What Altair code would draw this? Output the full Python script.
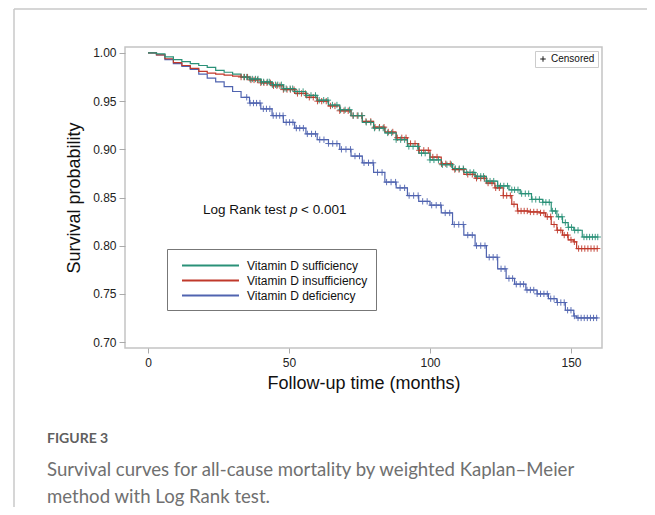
import altair as alt
import pandas as pd
import numpy as np

groups = ["Vitamin D sufficiency", "Vitamin D insufficiency", "Vitamin D deficiency"]
colors = ["#2a9178", "#c0392b", "#5064b0"]

suff_t = [0, 3, 6, 9, 12, 15, 18, 21, 24, 27, 30, 33, 36, 40, 44, 48, 52, 56, 60, 64, 68, 72, 76, 80,
          84, 88, 92, 96, 100, 104, 108, 112, 116, 120, 124, 128, 132, 136, 140, 143, 145, 147, 149,
          151, 154, 159.5]
suff_s = [1.000, 0.999, 0.996, 0.993, 0.991, 0.989, 0.987, 0.985, 0.982, 0.980, 0.978, 0.975, 0.973,
          0.970, 0.967, 0.963, 0.960, 0.956, 0.951, 0.946, 0.941, 0.935, 0.928, 0.922, 0.917, 0.910,
          0.903, 0.896, 0.889, 0.884, 0.880, 0.876, 0.872, 0.867, 0.862, 0.858, 0.854, 0.848, 0.845,
          0.836, 0.830, 0.824, 0.819, 0.816, 0.809, 0.809]

insuff_t = [0, 3, 6, 9, 12, 15, 18, 21, 24, 27, 30, 33, 36, 40, 44, 48, 52, 56, 60, 64, 68, 72, 76, 80,
            84, 88, 92, 96, 100, 104, 108, 112, 116, 120, 123, 126, 129, 131, 135, 139, 141, 143, 145,
            147, 149, 151, 152, 159.5]
insuff_s = [1.000, 0.998, 0.994, 0.990, 0.987, 0.984, 0.981, 0.979, 0.978, 0.977, 0.976, 0.975, 0.972,
            0.969, 0.966, 0.962, 0.958, 0.954, 0.950, 0.945, 0.940, 0.935, 0.929, 0.923, 0.918, 0.912,
            0.906, 0.899, 0.892, 0.885, 0.879, 0.874, 0.870, 0.865, 0.860, 0.852, 0.843, 0.836, 0.835,
            0.834, 0.830, 0.822, 0.816, 0.811, 0.806, 0.804, 0.797, 0.797]

def_t = [0, 3, 6, 9, 12, 15, 18, 21, 24, 27, 30, 33, 36, 40, 44, 48, 52, 56, 60, 64, 68, 72, 76, 80,
         84, 88, 92, 96, 100, 104, 108, 112, 116, 120, 124, 127, 130, 134, 138, 142, 145, 148, 151,
         152, 159.5]
def_s = [1.000, 0.998, 0.993, 0.989, 0.986, 0.983, 0.978, 0.974, 0.970, 0.965, 0.960, 0.954, 0.948,
         0.942, 0.935, 0.928, 0.922, 0.916, 0.910, 0.906, 0.900, 0.893, 0.886, 0.876, 0.866, 0.860,
         0.852, 0.846, 0.842, 0.834, 0.822, 0.811, 0.800, 0.788, 0.776, 0.766, 0.760, 0.754, 0.750,
         0.745, 0.741, 0.733, 0.727, 0.725, 0.725]

suff_cens = [34, 35, 36.2, 37, 38.1, 39, 40.2, 41, 42.3, 43, 44.1, 45.2, 46, 47.3, 48.2, 49, 50.4, 51.3,
             52.5, 53.6, 55, 56.3, 57.8, 59.4, 60.7, 62.3, 63.8, 65.4, 67, 68.3, 69.9, 71.5, 72.8,
             74.5, 75.9, 77.4, 79, 80.3, 82, 83.4, 85, 86.4, 88, 89.6, 91, 92.5, 94, 95.6, 97, 98.3,
             100, 101.4, 103, 104.4, 106, 107.6, 109, 110.4, 111.8, 113, 114.2, 115.5, 116.8, 118,
             119, 120.2, 121.3, 122.6, 124, 125, 126.2, 127.5, 129, 130, 131.2, 132.5, 133.8, 135,
             136.2, 137.5, 138.8, 140, 141.1, 142.3, 143.4, 144.5, 145.6, 146.8, 148, 149.1, 150.2,
             151.3, 152.5, 154.6, 155.6, 156.6, 157.6, 158.6, 159.5]
insuff_cens = [33, 34.2, 35.3, 36.5, 37.6, 38.8, 40, 41.1, 42.2, 43.4, 44.5, 45.7, 46.8, 48, 49.3, 50.5,
               51.8, 53, 54.4, 55.8, 57.2, 58.6, 60.1, 61.6, 63.2, 64.7, 66.3, 68, 69.5, 71, 72.7,
               74.2, 75.8, 77.3, 79, 80.5, 82.1, 83.7, 85.2, 86.8, 88.4, 90, 91.5, 93.1, 94.7, 96.2,
               97.8, 99.4, 101, 102.5, 104.1, 105.6, 107.2, 108.8, 110.3, 111.9, 113.4, 115, 116.5,
               118, 119.3, 120.6, 122, 123.3, 124.6, 126, 127.2, 128.5, 129.8, 131.2, 132.3, 133.4,
               134.5, 135.6, 136.8, 138, 139.2, 140.4, 141.6, 142.8, 144, 145.2, 146.4, 147.6, 148.8,
               150, 151.2, 152.7, 153.8, 154.9, 156, 157.1, 158.2, 159.3]
def_cens = [35, 36.2, 37.4, 38.5, 39.7, 40.9, 42, 43.2, 44.4, 45.5, 46.7, 47.9, 49, 50.2, 51.4, 52.6,
            53.8, 55.1, 56.5, 58, 59.4, 60.9, 62.4, 64, 65.5, 67, 68.6, 70.2, 71.8, 73.4, 75, 76.6,
            78.2, 79.8, 81.4, 83, 84.6, 86.2, 87.8, 89.4, 91, 92.6, 94.2, 95.8, 97.4, 99, 100.6,
            102.2, 103.8, 105.4, 107, 108.6, 110.2, 111.8, 113.4, 115, 116.5, 118, 119.5, 121, 122.4,
            123.8, 125.2, 126.6, 128, 129.3, 130.6, 132, 133.2, 134.4, 135.6, 136.8, 138, 139.2,
            140.4, 141.6, 142.8, 144, 145.2, 146.4, 147.6, 148.8, 150, 151.2, 152.5, 153.6, 154.7,
            155.8, 156.9, 158, 159.1]

caption_head = "FIGURE 3"
caption_lines = ["Survival curves for all-cause mortality by weighted Kaplan\u2013Meier",
                 "method with Log Rank test."]

# draw order: deficiency, insufficiency, sufficiency (sufficiency on top)
series = [(groups[2], def_t, def_s, def_cens),
          (groups[1], insuff_t, insuff_s, insuff_cens),
          (groups[0], suff_t, suff_s, suff_cens)]

line_rows, cens_rows = [], []
for i, (g, ts, ss, cs) in enumerate(series):
    for t, s in zip(ts, ss):
        line_rows.append({"group": g, "t": t, "s": s, "o": i})
    ta = np.array(ts)
    for c in cs:
        k = np.searchsorted(ta, c, side="right") - 1
        cens_rows.append({"group": g, "t": c, "s": ss[k], "kind": "Censored"})
lines_df = pd.DataFrame(line_rows)
cens_df = pd.DataFrame(cens_rows)

FONT = "Liberation Sans"
CAP_FONT = "Lato"
cross = "M-1,0H1M0,-1V1"

xscale = alt.Scale(domain=[-8.16, 161.0], nice=False, zero=False)
yscale = alt.Scale(domain=[0.6938, 1.0062], nice=False, zero=False)
cscale = alt.Scale(domain=groups, range=colors)

xaxis = alt.Axis(values=[0, 50, 100, 150], title="Follow-up time (months)", grid=False, domain=False,
                 tickSize=5, tickColor="#aaaaaa", labelPadding=4, labelFontSize=12, labelFont=FONT,
                 labelColor="#222222", titleFont=FONT, titleFontSize=18, titleFontWeight="normal",
                 titleColor="#111111", titlePadding=6)
yaxis = alt.Axis(values=[0.70, 0.75, 0.80, 0.85, 0.90, 0.95, 1.00], format=".2f",
                 title="Survival probability", grid=False, domain=False, tickSize=6,
                 tickColor="#aaaaaa", labelPadding=3, labelFontSize=12, labelFont=FONT,
                 labelColor="#222222", titleFont=FONT, titleFontSize=18, titleFontWeight="normal",
                 titleColor="#111111", titlePadding=9)

lines = alt.Chart(lines_df).mark_line(interpolate="step-after", strokeWidth=1.2).encode(
    x=alt.X("t:Q", scale=xscale, axis=xaxis),
    y=alt.Y("s:Q", scale=yscale, axis=yaxis),
    color=alt.Color("group:N", scale=cscale, sort=groups,
                    legend=alt.Legend(orient="none", legendX=42, legendY=202, title=None,
                                      symbolType="M-4,0H4", symbolSize=203, symbolStrokeWidth=2,
                                      symbolOffset=27, labelOffset=28, padding=8, rowPadding=0,
                                      labelFont=FONT, labelFontSize=12, labelColor="#111111",
                                      strokeColor="#777777", fillColor="white", labelLimit=0)),
    detail="o:N",
)

points = alt.Chart(cens_df).mark_point(filled=False, size=40, strokeWidth=1, opacity=0.9).encode(
    x=alt.X("t:Q", scale=xscale),
    y=alt.Y("s:Q", scale=yscale),
    stroke=alt.Stroke("group:N", scale=cscale, legend=None),
    shape=alt.Shape("kind:N", scale=alt.Scale(domain=["Censored"], range=[cross]),
                    legend=alt.Legend(orient="top-right", offset=4, title=None, padding=3,
                                      labelFont=FONT, labelFontSize=10, labelColor="#111111",
                                      symbolSize=30, symbolStrokeWidth=1, symbolStrokeColor="black",
                                      symbolFillColor="transparent", labelOffset=3,
                                      strokeColor="#cccccc", fillColor="white")),
)

ann_df = pd.DataFrame({"x": [19.5], "y": [0.837]})
ann1 = alt.Chart(ann_df).mark_text(align="left", baseline="middle", font=FONT, fontSize=13.5,
                                   color="#111111", text="Log Rank test").encode(
    x=alt.X("x:Q", scale=xscale), y=alt.Y("y:Q", scale=yscale))
ann2 = alt.Chart(ann_df).mark_text(align="left", baseline="middle", font=FONT, fontSize=13.5,
                                   fontStyle="italic", color="#111111", text="p", dx=87).encode(
    x=alt.X("x:Q", scale=xscale), y=alt.Y("y:Q", scale=yscale))
ann3 = alt.Chart(ann_df).mark_text(align="left", baseline="middle", font=FONT, fontSize=13.5,
                                   color="#111111", text="< 0.001", dx=98).encode(
    x=alt.X("x:Q", scale=xscale), y=alt.Y("y:Q", scale=yscale))

dummy = pd.DataFrame({"a": [0]})
frame_top = alt.Chart(dummy).mark_rule(color="#c8c8c8", strokeWidth=1.5).encode(
    x=alt.value(-111), x2=alt.value(522), y=alt.value(-38))
frame_left = alt.Chart(dummy).mark_rule(color="#c8c8c8", strokeWidth=1.5).encode(
    x=alt.value(-111), y=alt.value(-38), y2=alt.value(460))

cap_head = alt.Chart(dummy).mark_text(align="left", baseline="middle", font=CAP_FONT, fontSize=14,
                                      fontWeight="bold", color="#606060", text=caption_head).encode(
    x=alt.value(-78), y=alt.value(392))
cap_l1 = alt.Chart(dummy).mark_text(align="left", baseline="middle", font=CAP_FONT, fontSize=18.6,
                                    color="#707070", text=caption_lines[0]).encode(
    x=alt.value(-78), y=alt.value(423))
cap_l2 = alt.Chart(dummy).mark_text(align="left", baseline="middle", font=CAP_FONT, fontSize=18.6,
                                    color="#707070", text=caption_lines[1]).encode(
    x=alt.value(-78), y=alt.value(450))

chart = alt.layer(frame_top, frame_left, lines, points, ann1, ann2, ann3,
                  cap_head, cap_l1, cap_l2).resolve_legend(
    color="independent", stroke="independent", shape="independent"
).properties(
    width=477, height=301,
    autosize=alt.AutoSizeParams(type="none"),
    padding={"left": 117, "top": 39, "right": 45, "bottom": 159},
).configure_view(stroke="#c4c4c4", strokeWidth=1.5)

chart.save("out.html", embed_options={"renderer": "svg", "actions": False})
